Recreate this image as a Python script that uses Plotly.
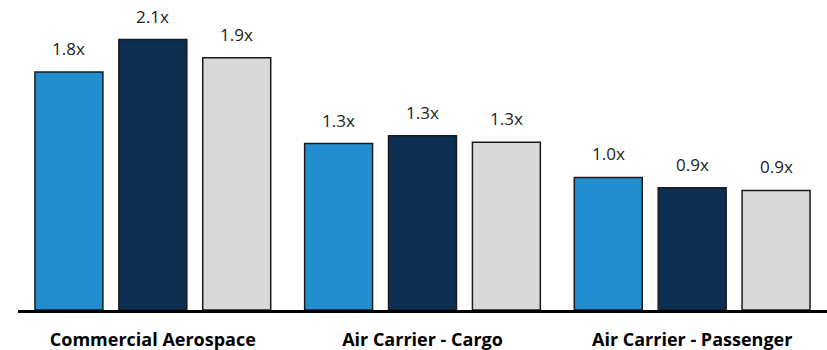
import plotly.graph_objects as go

# Segment multiples, three periods per segment
categories = ["Commercial Aerospace", "Air Carrier - Cargo", "Air Carrier - Passenger"]
series_a = [1.83, 1.28, 1.02]
series_b = [2.08, 1.34, 0.94]
series_c = [1.94, 1.29, 0.92]

colors = ["#238ECF", "#0C2F51", "#D9D9D9"]
label_font = dict(family="Open Sans, Noto Sans, sans-serif", size=17, color="#222222")

BARGAP = 0.0667
GROUPGAP = 0.19
slot = (1 - BARGAP) / 3

fig = go.Figure()
for i, (vals, col) in enumerate(zip([series_a, series_b, series_c], colors)):
    fig.add_trace(go.Bar(
        x=categories,
        y=vals,
        marker=dict(color=col, line=dict(color="#1a1a1a", width=1.5)),
        showlegend=False,
        hoverinfo="skip",
    ))
    # value labels sitting a little above each bar
    for j, v in enumerate(vals):
        fig.add_annotation(
            x=j + (i - 1) * slot,
            y=v,
            text=f"{v:.1f}x",
            showarrow=False,
            yanchor="bottom",
            yshift=10,
            font=label_font,
        )

fig.update_layout(
    width=827,
    height=350,
    margin=dict(l=18, r=0, t=0, b=40),
    paper_bgcolor="white",
    plot_bgcolor="white",
    barmode="group",
    bargap=BARGAP,
    bargroupgap=GROUPGAP,
)
fig.update_xaxes(
    range=[-0.5, 2.5],
    showline=True,
    linecolor="black",
    linewidth=3,
    ticks="",
    showgrid=False,
    ticklabelstandoff=11,
    tickfont=dict(family="Open Sans, Noto Sans, sans-serif", size=18, color="black", weight="bold"),
)
fig.update_yaxes(
    range=[0, 310 / 130],
    visible=False,
    showgrid=False,
)

fig.write_html("out.html")
